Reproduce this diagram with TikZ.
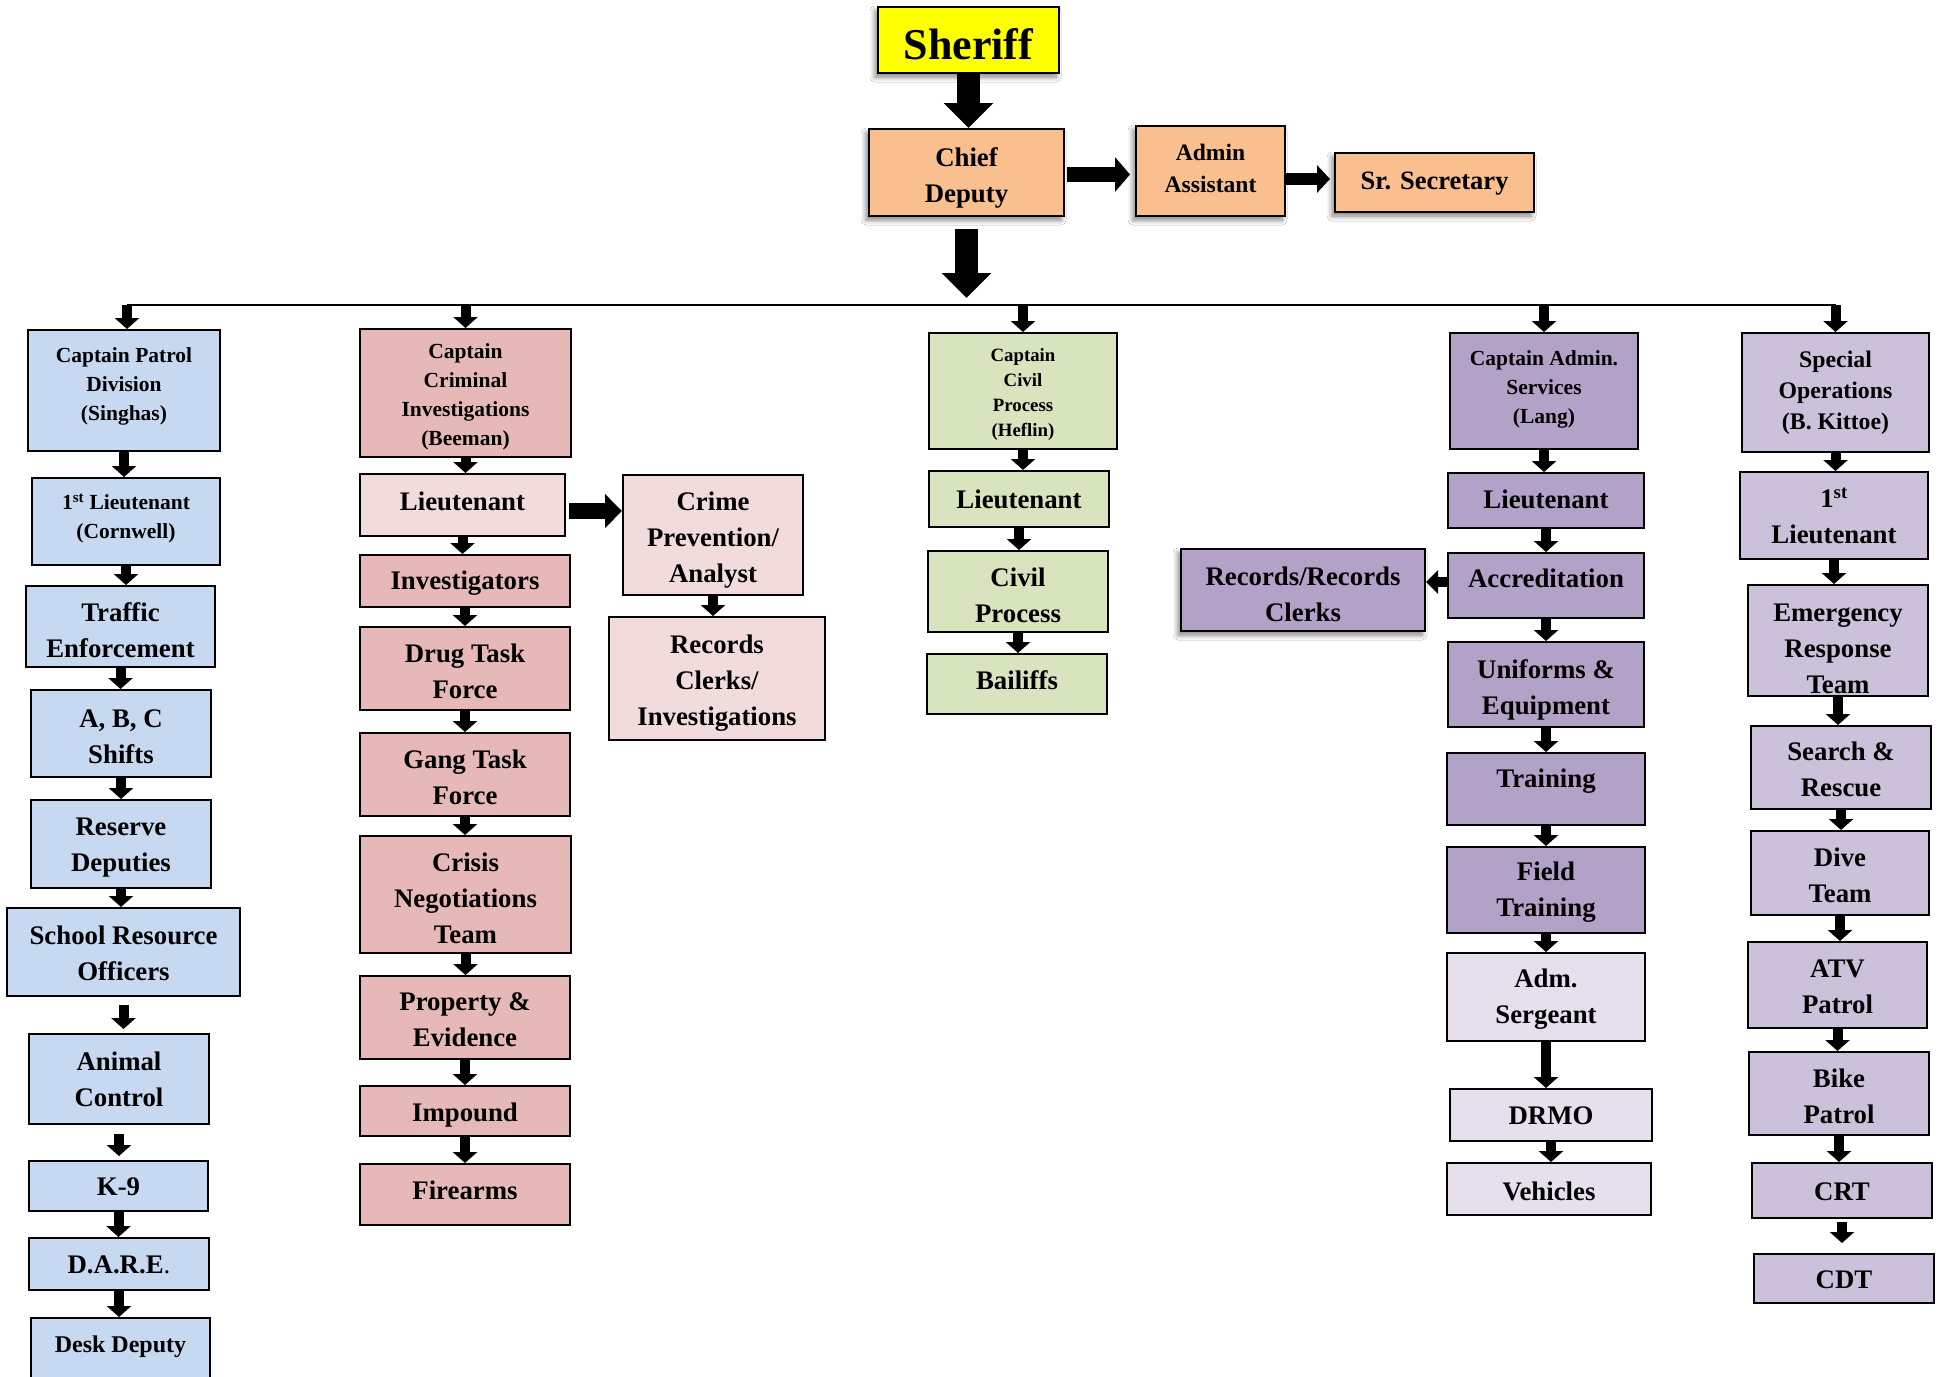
\documentclass[tikz,border=0pt]{standalone}
\usepackage{fontspec}
\setmainfont{Liberation Serif}
\usetikzlibrary{arrows.meta,shadows.blur,calc}
\definecolor{cYel}{HTML}{FFFF00}
\definecolor{cOr}{HTML}{F9BF8F}
\definecolor{cBlue}{HTML}{C6D9F1}
\definecolor{cPinkD}{HTML}{E6B9B8}
\definecolor{cPinkL}{HTML}{F2DCDB}
\definecolor{cGreen}{HTML}{D7E4BD}
\definecolor{cPurD}{HTML}{B3A2C7}
\definecolor{cPurM}{HTML}{CCC1DA}
\definecolor{cPurL}{HTML}{E5E0EC}
\newcommand\fs[2]{\bfseries\fontsize{#1}{#2}\selectfont}
% \mybox[box style]{name}{x1}{y1}{x2}{y2}{text style}{text}
\newcommand{\mybox}[8][]{%
  \node[bx,#1,minimum width={(#5-#3)*1pt},minimum height={(#6-#4)*1pt}] (#2) at ({(#3+#5)/2},{(#4+#6)/2}) {};
  \node[lbl,#7] (#2-t) at (#2.center) {#8};}
\tikzset{
  bx/.style={draw=black, line width=2pt, inner sep=0pt},
  lbl/.style={inner sep=0pt, align=center, text=black, font=\fs{26.8}{36}},
  dy/.style={yshift=-#1pt},
  capt/.style={font=\fs{21.5}{29}},
  captc/.style={font=\fs{18.8}{25}},
  shd/.style={blur shadow={shadow xshift=-3pt, shadow yshift=-4pt, shadow blur radius=5pt, shadow blur steps=8, shadow opacity=50}},
  orb/.style={fill=cOr, shd},
  blu/.style={fill=cBlue},
  pkd/.style={fill=cPinkD},
  pkl/.style={fill=cPinkL},
  grn/.style={fill=cGreen},
  pud/.style={fill=cPurD},
  pum/.style={fill=cPurM},
  pul/.style={fill=cPurL},
  sa/.style={line width=10pt, -{Triangle[width=24pt,length=11pt]}},
  ba/.style={line width=23pt, -{Triangle[width=48pt,length=25pt]}},
  ha1/.style={line width=15pt, -{Triangle[width=34pt,length=15pt]}},
  ha2/.style={line width=12pt, -{Triangle[width=27pt,length=13pt]}},
  ha3/.style={line width=16pt, -{Triangle[width=33pt,length=17pt]}},
  busline/.style={line width=2pt},
}
\newcommand\va[3][]{\draw[sa,#1] (#2.south) -- (#2.south |- #3.north);}
\begin{document}
\begin{tikzpicture}[x=1pt,y=-1pt]
\fill[white] (0,0) rectangle (1942,1376);
\useasboundingbox (0,0) rectangle (1942,1376);
\clip (0,0) rectangle (1942,1376);

% top
\mybox[fill=cYel,shd]{sheriff}{878}{7}{1059}{73}{font=\fs{44}{50},dy=4}{Sheriff}
\mybox[orb]{chief}{869}{129}{1064}{216}{dy=5}{Chief\\Deputy}
\mybox[orb]{admin}{1136}{126}{1285}{216}{font=\fs{23.6}{32},dy=-3}{Admin\\Assistant}
\mybox[orb]{sec}{1335}{153}{1534}{212}{font=\fs{26.5}{34},dy=1}{Sr. Secretary}

% column 1
\mybox[blu]{c1a}{28}{330}{220}{451}{capt,dy=-4}{Captain Patrol\\Division\\(Singhas)}
\mybox[blu]{c1b}{32}{478}{220}{565}{capt,dy=-3}{1\textsuperscript{st} Lieutenant\\(Cornwell)}
\mybox[blu]{c1c}{26}{586}{215}{667}{dy=4}{Traffic\\Enforcement}
\mybox[blu]{c1d}{31}{690}{211}{777}{dy=3}{A, B, C\\Shifts}
\mybox[blu]{c1e}{31}{800}{211}{888}{dy=4}{Reserve\\Deputies}
\mybox[blu]{c1f}{7}{908}{240}{996}{dy=1}{School Resource\\Officers}
\mybox[blu]{c1g}{29}{1034}{209}{1124}{}{Animal\\Control}
\mybox[blu]{c1h}{29}{1161}{208}{1211}{dy=1}{K-9}
\mybox[blu]{c1i}{29}{1238}{209}{1290}{dy=1}{D.A.R.E\textmd{.}}
\mybox[blu]{c1j}{31}{1318}{210}{1400}{font=\fs{24}{30},dy=-12}{Desk Deputy}

% column 2
\mybox[pkd]{c2a}{360}{329}{571}{457}{capt,dy=4}{Captain\\Criminal\\Investigations\\(Beeman)}
\mybox[pkl]{c2b}{360}{474}{565}{536}{dy=-4}{Lieutenant}
\mybox[pkd]{c2c}{360}{555}{570}{607}{dy=2}{Investigators}
\mybox[pkd]{c2d}{360}{627}{570}{710}{dy=3}{Drug Task\\Force}
\mybox[pkd]{c2e}{360}{733}{570}{816}{dy=3}{Gang Task\\Force}
\mybox[pkd]{c2f}{360}{836}{571}{953}{dy=4}{Crisis\\Negotiations\\Team}
\mybox[pkd]{c2g}{360}{976}{570}{1059}{dy=2}{Property \&\\Evidence}
\mybox[pkd]{c2h}{360}{1086}{570}{1136}{dy=4}{Impound}
\mybox[pkd]{c2i}{360}{1164}{570}{1225}{dy=-4}{Firearms}
\mybox[pkl]{crime}{623}{475}{803}{595}{dy=5}{Crime\\Prevention/\\Analyst}
\mybox[pkl]{rec2}{609}{617}{825}{740}{dy=5}{Records\\Clerks/\\Investigations}

% column 3
\mybox[grn]{c3a}{929}{333}{1117}{449}{captc,dy=3}{Captain\\Civil\\Process\\(Heflin)}
\mybox[grn]{c3b}{929}{471}{1109}{527}{}{Lieutenant}
\mybox[grn]{c3c}{928}{551}{1108}{632}{dy=4}{Civil\\Process}
\mybox[grn]{c3d}{927}{654}{1107}{714}{dy=-4}{Bailiffs}

% column 4
\mybox[pud]{c4a}{1450}{333}{1638}{449}{capt,dy=-2}{Captain Admin.\\Services\\(Lang)}
\mybox[pud]{c4b}{1448}{473}{1644}{528}{dy=-1}{Lieutenant}
\mybox[pud]{c4c}{1448}{553}{1644}{618}{dy=-7}{Accreditation}
\mybox[pud,shd]{rec4}{1181}{549}{1425}{631}{dy=4}{Records/Records\\Clerks}
\mybox[pud]{c4d}{1448}{642}{1644}{727}{dy=5}{Uniforms \&\\Equipment}
\mybox[pud]{c4e}{1447}{753}{1645}{825}{dy=-8}{Training}
\mybox[pud]{c4f}{1447}{847}{1645}{933}{dy=2}{Field\\Training}
\mybox[pul]{c4g}{1447}{953}{1645}{1041}{dy=2}{Adm.\\Sergeant}
\mybox[pul]{c4h}{1450}{1089}{1652}{1141}{dy=1}{DRMO}
\mybox[pul]{c4i}{1447}{1163}{1651}{1215}{dy=2}{Vehicles}

% column 5
\mybox[pum]{c5a}{1742}{333}{1929}{452}{font=\fs{23.8}{31}}{Special\\Operations\\(B. Kittoe)}
\mybox[pum]{c5b}{1740}{472}{1928}{559}{}{1\textsuperscript{st}\\Lieutenant}
\mybox[pum]{c5c}{1748}{585}{1928}{696}{dy=8}{Emergency\\Response\\Team}
\mybox[pum]{c5d}{1751}{726}{1931}{809}{dy=2}{Search \&\\Rescue}
\mybox[pum]{c5e}{1751}{831}{1929}{915}{dy=2}{Dive\\Team}
\mybox[pum]{c5f}{1748}{942}{1927}{1028}{dy=2}{ATV\\Patrol}
\mybox[pum]{c5g}{1749}{1052}{1929}{1135}{dy=3}{Bike\\Patrol}
\mybox[pum]{c5h}{1752}{1163}{1932}{1218}{dy=1}{CRT}
\mybox[pum]{c5i}{1754}{1254}{1934}{1303}{dy=1}{CDT}

% top connectors
\draw[ba] (sheriff.south) -- (sheriff.south |- chief.north);
\coordinate (bus) at (0,305);
\coordinate (busdrop) at (chief.south |- 0,298);
\draw[ba] ([yshift=-12pt]chief.south) -- (busdrop);
\coordinate (h1) at (chief.east |- 0,174.5);
\draw[ha1,shorten >=5pt] ([xshift=2pt]h1) -- (h1 -| admin.west);
\coordinate (h2) at (admin.east |- 0,179);
\draw[ha2,shorten >=4pt] (h2) -- (h2 -| sec.west);

% bus
\coordinate (busL) at (127,305);
\draw[busline] (busL) -- (c5a.north |- bus);
\draw[sa] (busL) -- (busL |- c1a.north);
\foreach \n in {c2a,c3a,c4a,c5a}{
  \draw[sa] (\n.north |- bus) -- (\n.north);
}

% column 1 arrows
\va{c1a}{c1b}
\va{c1b}{c1c}
\va{c1c}{c1d}
\va{c1d}{c1e}
\va{c1e}{c1f}
\va[shorten <=8pt,shorten >=4pt]{c1f}{c1g}
\va[shorten <=9pt,shorten >=4pt]{c1g}{c1h}
\va{c1h}{c1i}
\va{c1i}{c1j}

% column 2 arrows
\va{c2a}{c2b}
\va{c2b}{c2c}
\va{c2c}{c2d}
\va{c2d}{c2e}
\va{c2e}{c2f}
\va{c2f}{c2g}
\va{c2g}{c2h}
\va{c2h}{c2i}
\coordinate (h3) at (c2b.east |- 0,511);
\draw[ha3] ([xshift=3pt]h3) -- (h3 -| crime.west);
\va{crime}{rec2}

% column 3 arrows
\va{c3a}{c3b}
\va{c3b}{c3c}
\va{c3c}{c3d}

% column 4 arrows
\va{c4a}{c4b}
\va{c4b}{c4c}
\va{c4c}{c4d}
\va{c4d}{c4e}
\va{c4e}{c4f}
\va{c4f}{c4g}
\va{c4g}{c4h}
\va{c4h}{c4i}
\coordinate (h4) at (c4c.west |- 0,582);
\draw[line width=10pt, -{Triangle[width=23pt,length=12pt]}] (h4) -- (h4 -| rec4.east);

% column 5 arrows
\va{c5a}{c5b}
\va{c5b}{c5c}
\va{c5c}{c5d}
\va{c5d}{c5e}
\va{c5e}{c5f}
\va{c5f}{c5g}
\va{c5g}{c5h}
\va[shorten <=3pt,shorten >=10pt]{c5h}{c5i}
\end{tikzpicture}
\end{document}
